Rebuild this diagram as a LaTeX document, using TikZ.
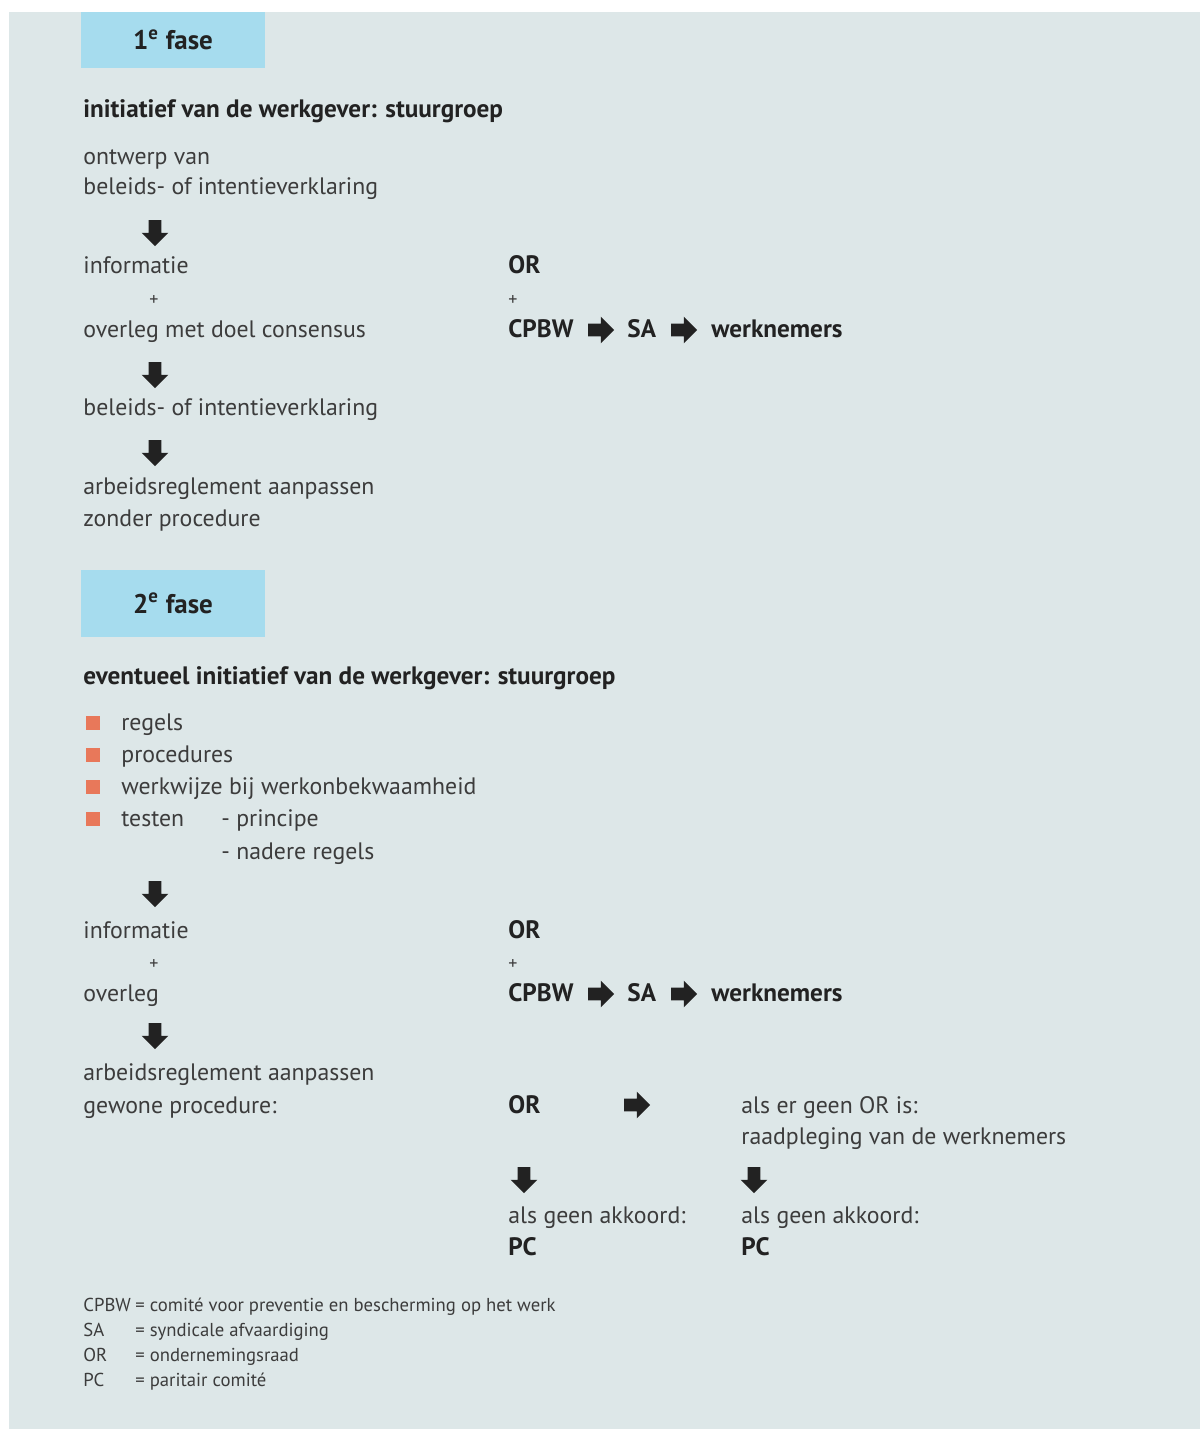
\documentclass[tikz,border=0pt]{standalone}
\usepackage{fontspec}
\setmainfont{PT Sans}
\usetikzlibrary{shapes.arrows}
\definecolor{bgcol}{HTML}{DDE7E8}
\definecolor{fasecol}{HTML}{A6DCEE}
\definecolor{bulletcol}{HTML}{E8785A}
\definecolor{txtcol}{HTML}{3C3C3C}
\definecolor{boldcol}{HTML}{222222}
\tikzset{txt/.style={anchor=base west, inner sep=0pt, text=txtcol, font=\fontsize{11.9}{14}\selectfont}}
\tikzset{bold/.style={txt, text=boldcol, font=\fontsize{12.6}{14}\selectfont\bfseries}}
\tikzset{small/.style={txt, font=\fontsize{9.35}{10}\selectfont}}
\tikzset{plus/.style={anchor=base, inner sep=0pt, text=txtcol, font=\fontsize{9}{10}\selectfont}}
\tikzset{fasebox/.style={fill=fasecol, minimum width=92pt, minimum height=28pt, inner sep=0pt, text=boldcol, font=\fontsize{13.5}{15}\selectfont\bfseries}}
\tikzset{bullet/.style={fill=bulletcol, minimum size=7pt, inner sep=0pt}}
\tikzset{blockarrow/.style={single arrow, fill=boldcol, draw=none, inner sep=3pt, minimum height=13pt, single arrow head extend=3.5pt, single arrow head indent=0pt}}
\tikzset{downarrow/.style={blockarrow, shape border rotate=270}}
\begin{document}
\begin{tikzpicture}[x=0.5pt,y=-0.5pt]
	\useasboundingbox (0,0) rectangle (1200,1429);
	\fill[white] (0,0) rectangle (1200,1429);
	\fill[bgcol] (9,12) rectangle (1200,1429);

	% 1e fase
	\node[fasebox] (fase1) at (173,40) {1\textsuperscript{e} fase};
	\node[bold] (init1) at (83,118) {initiatief van de werkgever: stuurgroep};
	\node[txt] (ontwerp) at (83,164) {ontwerp van};
	\node[txt] (verkl1) at (83,194) {beleids- of intentieverklaring};
	\node[downarrow] (d1) at (155,230) {};
	\node[txt] (info1) at (83,273) {informatie};
	\node[plus] (plus1) at (154,305) {+};
	\node[txt] (overleg1) at (83,337) {overleg met doel consensus};
	\node[downarrow] (d2) at (155,372) {};
	\node[txt] (verkl2) at (83,415) {beleids- of intentieverklaring};
	\node[downarrow] (d3) at (155,450) {};
	\node[txt] (aanpas1) at (83,494) {arbeidsreglement aanpassen};
	\node[txt] (zonder) at (83,526) {zonder procedure};

	% 1e fase, rechts
	\node[bold] (or1) at (508,273) {OR};
	\node[plus] (plus1r) at (513,305) {+};
	\node[bold] (cpbw1) at (508,337) {CPBW};
	\node[blockarrow] (r1) at (598,330) {};
	\node[bold] (sa1) at (627,337) {SA};
	\node[blockarrow] (r2) at (681,330) {};
	\node[bold] (wn1) at (711,337) {werknemers};

	% 2e fase
	\node[fasebox, minimum height=33.5pt] (fase2) at (173,603.5) {2\textsuperscript{e} fase};
	\node[bold] (init2) at (83,684) {eventueel initiatief van de werkgever: stuurgroep};
	\node[bullet] (b1) at (93,723) {};	\node[txt] (regels) at (121,730) {regels};
	\node[bullet] (b2) at (93,755) {};	\node[txt] (proc) at (121,762) {procedures};
	\node[bullet] (b3) at (93,787) {};	\node[txt] (werkw) at (121,794) {werkwijze bij werkonbekwaamheid};
	\node[bullet] (b4) at (93,819) {};	\node[txt] (testen) at (121,826) {testen};
	\node[txt] (princ) at (221,826) {- principe};
	\node[txt] (nader) at (221,859) {- nadere regels};
	\node[downarrow] (d4) at (155,891) {};
	\node[txt] (info2) at (83,938) {informatie};
	\node[plus] (plus2) at (154,969) {+};
	\node[txt] (overleg2) at (83,1001) {overleg};
	\node[downarrow] (d5) at (155,1033) {};
	\node[txt] (aanpas2) at (83,1080) {arbeidsreglement aanpassen};
	\node[txt] (gewoon) at (83,1113) {gewone procedure:};

	% 2e fase, rechts
	\node[bold] (or2) at (508,938) {OR};
	\node[plus] (plus2r) at (513,969) {+};
	\node[bold] (cpbw2) at (508,1001) {CPBW};
	\node[blockarrow] (r3) at (598,994) {};
	\node[bold] (sa2) at (627,1001) {SA};
	\node[blockarrow] (r4) at (681,994) {};
	\node[bold] (wn2) at (711,1001) {werknemers};

	\node[bold] (or3) at (508,1113) {OR};
	\node[blockarrow] (r5) at (634,1105) {};
	\node[txt] (geenor) at (741,1113) {als er geen OR is:};
	\node[txt] (raadpl) at (741,1144) {raadpleging van de werknemers};
	\node[downarrow] (d6) at (524,1177) {};
	\node[downarrow] (d7) at (754,1177) {};
	\node[txt] (akk1) at (508,1223) {als geen akkoord:};
	\node[txt] (akk2) at (741,1223) {als geen akkoord:};
	\node[bold] (pc1) at (508,1255) {PC};
	\node[bold] (pc2) at (741,1255) {PC};

	% afkortingen
	\node[small] (ab1) at (83,1311) {CPBW};	\node[small] (ex1) at (135,1311) {= comité voor preventie en bescherming op het werk};
	\node[small] (ab2) at (83,1336) {SA};	\node[small] (ex2) at (135,1336) {= syndicale afvaardiging};
	\node[small] (ab3) at (83,1361) {OR};	\node[small] (ex3) at (135,1361) {= ondernemingsraad};
	\node[small] (ab4) at (83,1386) {PC};	\node[small] (ex4) at (135,1386) {= paritair comité};
\end{tikzpicture}
\end{document}
